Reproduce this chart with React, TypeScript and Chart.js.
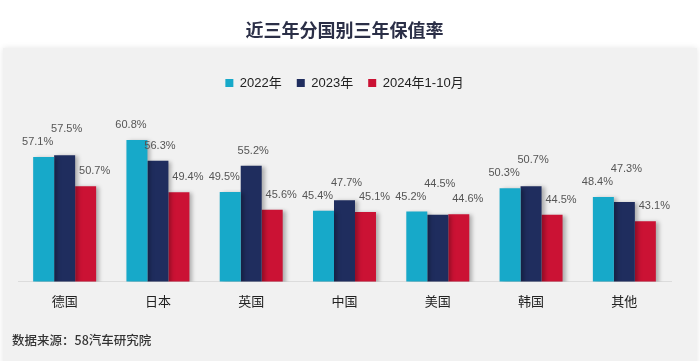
import React, { useEffect, useRef } from 'react';
import { Chart, registerables } from 'chart.js';

Chart.register(...registerables);

const titleText = '近三年分国别三年保值率';
const sourceText = '数据来源：58汽车研究院';
const categories = ['德国', '日本', '英国', '中国', '美国', '韩国', '其他'];
const seriesNames = ['2022年', '2023年', '2024年1-10月'];
const values2022 = [57.1, 60.8, 49.5, 45.4, 45.2, 50.3, 48.4];
const values2023 = [57.5, 56.3, 55.2, 47.7, 44.5, 50.7, 47.3];
const values2024 = [50.7, 49.4, 45.6, 45.1, 44.6, 44.5, 43.1];

const COLORS = ['#17a9c9', '#1f2d5e', '#cb1234'];
const LABEL_DX = [-6, 2, 9];
const LABEL_DY = 15;
const LABEL_H = 11;
const FONT = "'Liberation Sans', 'Noto Sans CJK SC', sans-serif";
const CJK = "'Noto Sans CJK SC', 'Liberation Sans', sans-serif";

const backgroundPlugin = {
  id: 'bgPanel',
  beforeDraw(chart: any) {
    const { ctx, width, height } = chart;
    ctx.save();
    ctx.fillStyle = '#ffffff';
    ctx.fillRect(0, 0, width, height);
    ctx.shadowColor = 'rgba(0,0,0,0.10)';
    ctx.shadowBlur = 6;
    ctx.fillStyle = '#f1f1f1';
    ctx.fillRect(3, 48, width - 6, height - 44);
    ctx.restore();
  },
  afterDraw(chart: any) {
    const { ctx } = chart;
    ctx.save();
    ctx.font = `500 12.5px ${CJK}`;
    ctx.fillStyle = '#333333';
    ctx.textBaseline = 'middle';
    ctx.textAlign = 'left';
    ctx.fillText(sourceText, 12, 340);
    ctx.restore();
  },
};

const barDecorPlugin = {
  id: 'barDecor',
  beforeDatasetsDraw(chart: any) {
    const ctx = chart.ctx;
    ctx.save();
    ctx.shadowColor = 'rgba(0,0,0,0.28)';
    ctx.shadowBlur = 4;
    ctx.shadowOffsetX = 3;
    ctx.shadowOffsetY = 1;
  },
  afterDatasetsDraw(chart: any) {
    const ctx = chart.ctx;
    ctx.restore();
    ctx.save();
    ctx.font = `11px ${FONT}`;
    ctx.fillStyle = '#555555';
    ctx.textAlign = 'center';
    ctx.textBaseline = 'middle';
    const n = chart.data.labels.length;
    for (let i = 0; i < n; i++) {
      const placed: { l: number; r: number; t: number; b: number }[] = [];
      chart.data.datasets.forEach((ds: any, di: number) => {
        const bar: any = chart.getDatasetMeta(di).data[i];
        const text = `${ds.data[i].toFixed(1)}%`;
        const w = ctx.measureText(text).width;
        const x = bar.x + LABEL_DX[di];
        let y = bar.y - LABEL_DY;
        let moved = true;
        while (moved) {
          moved = false;
          for (const p of placed) {
            const l = x - w / 2, r = x + w / 2;
            const t = y - LABEL_H / 2, b = y + LABEL_H / 2;
            if (l < p.r && r > p.l && t < p.b && b > p.t) {
              y = p.t - LABEL_H / 2 - 2;
              moved = true;
            }
          }
        }
        placed.push({ l: x - w / 2, r: x + w / 2, t: y - LABEL_H / 2, b: y + LABEL_H / 2 });
        ctx.fillText(text, x, y);
      });
    }
    ctx.restore();
  },
};

export default function App() {
  const ref = useRef<HTMLCanvasElement | null>(null);

  useEffect(() => {
    if (!ref.current) return;
    const chart = new Chart(ref.current, {
      type: 'bar',
      data: {
        labels: categories,
        datasets: [values2022, values2023, values2024].map((d, i) => ({
          label: seriesNames[i],
          data: d,
          backgroundColor: COLORS[i],
          borderWidth: 0,
          categoryPercentage: 0.675,
          barPercentage: 1,
        })),
      },
      options: {
        responsive: false,
        animation: false,
        devicePixelRatio: 1,
        layout: { padding: { left: 18, right: 29, top: 0, bottom: 40 } },
        plugins: {
          title: {
            display: true,
            text: titleText,
            color: '#2b2f47',
            font: { size: 18, weight: 'bold', family: CJK },
            padding: { top: 19, bottom: 21 },
          },
          legend: {
            display: true,
            position: 'top',
            labels: {
              boxWidth: 8,
              boxHeight: 8,
              padding: 15,
              color: '#222222',
              font: { size: 13, family: FONT },
            },
          },
          tooltip: { enabled: false },
        },
        scales: {
          x: {
            grid: { display: false, drawTicks: false },
            border: { display: true, color: '#dcdcdc', width: 1 },
            ticks: {
              color: '#222222',
              padding: 12,
              font: { size: 13, family: CJK },
            },
          },
          y: {
            display: false,
            min: 30,
            max: 69.6,
          },
        },
      },
      plugins: [backgroundPlugin, barDecorPlugin],
    } as any);
    return () => chart.destroy();
  }, []);

  return (
    <div style={{ position: 'fixed', left: 0, top: 0, width: 700, height: 361 }}>
      <canvas ref={ref} width={700} height={361} style={{ display: 'block', width: 700, height: 361 }} />
    </div>
  );
}
